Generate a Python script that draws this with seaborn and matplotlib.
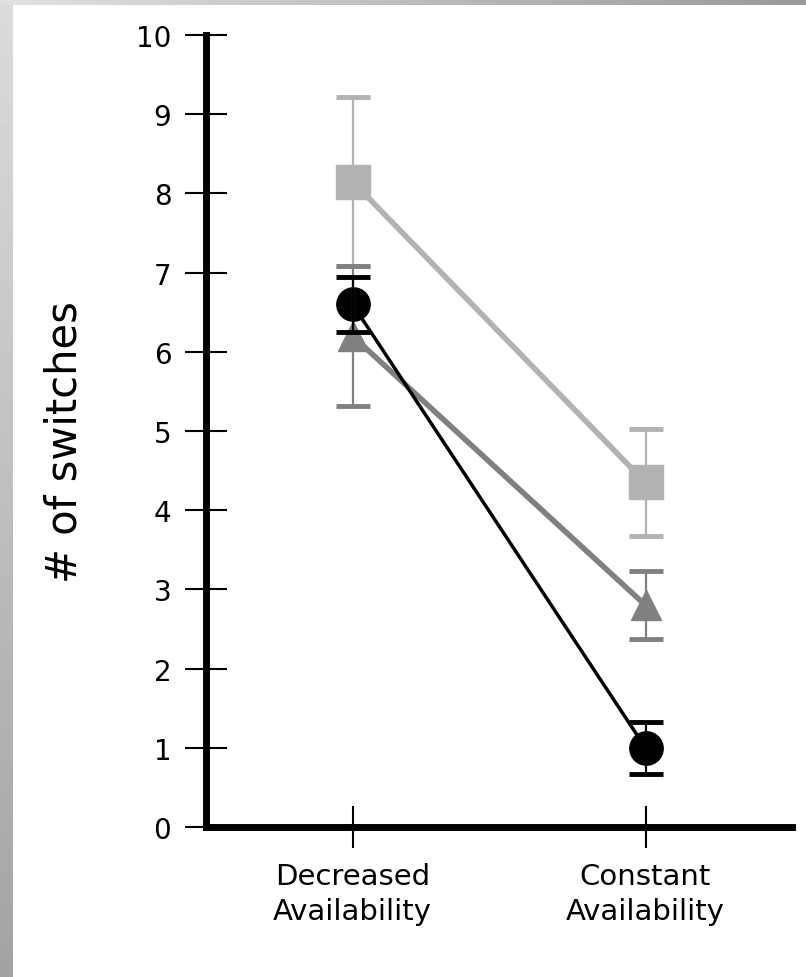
import numpy as np
import pandas as pd
import seaborn as sns
import matplotlib.pyplot as plt

# Values
conditions = ['Decreased\nAvailability', 'Constant\nAvailability']
y_ticks = [0, 1, 2, 3, 4, 5, 6, 7, 8, 9, 10]

square_mean = [8.15, 4.35]
square_err = [1.07, 0.68]
triangle_mean = [6.2, 2.8]
triangle_err = [0.88, 0.43]
circle_mean = [6.6, 1.0]
circle_err = [0.35, 0.33]

# Build one long table for seaborn
x_pos = list(range(len(conditions)))
df = pd.DataFrame({
    'pos': x_pos * 3,
    'switches': square_mean + triangle_mean + circle_mean,
    'err': square_err + triangle_err + circle_err,
    'group': ['square'] * 2 + ['triangle'] * 2 + ['circle'] * 2,
})

# Look of each group (no legend in the original)
styles = {
    'square': dict(color='#b2b2b2', marker='s', ms=24, lw=4.0, z=2.0),
    'triangle': dict(color='#808080', marker='^', ms=21, lw=4.0, z=2.1),
    'circle': dict(color='#000000', marker='o', ms=24, lw=2.5, z=2.2),
}

sns.set_style('white')
plt.rcParams['font.family'] = ['DejaVu Sans']
plt.rcParams['text.color'] = 'black'
plt.rcParams['axes.labelcolor'] = 'black'

fig = plt.figure(figsize=(8.06, 9.78), dpi=100)

# Gray gradient frame on the left and top edge
left_strip = fig.add_axes([0, 0, 13 / 806, 1])
grad_v = np.linspace(0.86, 0.64, 256).reshape(-1, 1)
left_strip.imshow(grad_v, aspect='auto', cmap='gray', vmin=0, vmax=1)
left_strip.axis('off')
top_strip = fig.add_axes([0, 1 - 6 / 978, 1, 6 / 978])
grad_h = np.linspace(0.88, 0.6, 256).reshape(1, -1)
top_strip.imshow(grad_h, aspect='auto', cmap='gray', vmin=0, vmax=1)
top_strip.axis('off')

ax = fig.add_axes([206 / 806, 1 - 828 / 978, 586 / 806, 792 / 978])

for name, grp in df.groupby('group', sort=False):
    st = styles[name]
    sns.lineplot(data=grp, x='pos', y='switches', ax=ax, color=st['color'],
                 lw=st['lw'], marker=st['marker'], markersize=st['ms'],
                 markeredgecolor=st['color'], markeredgewidth=1,
                 errorbar=None, zorder=st['z'])

# Error bars go on top of all markers
for name, grp in df.groupby('group', sort=False):
    st = styles[name]
    ax.errorbar(grp['pos'], grp['switches'], yerr=grp['err'], fmt='none',
                ecolor=st['color'], elinewidth=1.6, capsize=12.5,
                capthick=3.5, zorder=3)

ax.set_xlim(-0.5, 1.5)
ax.set_ylim(0, 10)
ax.set_xticks(x_pos)
ax.set_xticklabels(conditions, fontsize=21, linespacing=1.35)
ax.set_yticks(y_ticks)
ax.set_yticklabels([str(t) for t in y_ticks], fontsize=20)
ax.set_xlabel('')
ax.set_ylabel('# of switches', fontsize=30, color='black')
ax.yaxis.set_label_coords(-0.205, 0.487)

for side in ['top', 'right']:
    ax.spines[side].set_visible(False)
for side in ['left', 'bottom']:
    ax.spines[side].set_linewidth(5)
    ax.spines[side].set_color('black')

ax.tick_params(axis='both', direction='inout', length=30, width=1.5,
               pad=10, colors='black', bottom=True, left=True)

fig.savefig('out.png', dpi=100)
